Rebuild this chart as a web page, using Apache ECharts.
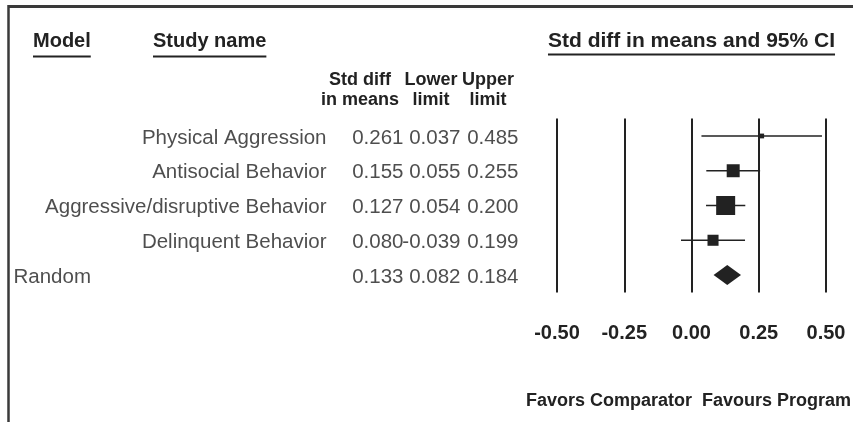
<!DOCTYPE html>
<html lang="en">
<head>
    <meta charset="UTF-8">
    <script src="https://cdn.jsdelivr.net/npm/echarts@6/dist/echarts.min.js"></script>
    <title>Std diff in means and 95% CI</title>
    <style>
        html, body { margin: 0; padding: 0; background: #fff; }
        #forest { width: 853px; height: 422px; }
    </style>
</head>
<body>
<div id="forest"></div>
<script type="text/javascript">
    // study rows
    var studies = ['Physical Aggression', 'Antisocial Behavior', 'Aggressive/disruptive Behavior', 'Delinquent Behavior'];
    var effect = [0.261, 0.155, 0.127, 0.080];
    var lower = [0.037, 0.055, 0.054, -0.039];
    var upper = [0.485, 0.255, 0.200, 0.199];
    var weights = [3.4, 25.0, 53.5, 18.1];   // relative weight, drives box size

    // summary row
    var modelName = 'Random';
    var pooled = [0.133, 0.082, 0.184];      // effect, lower, upper

    var xTicks = [-0.50, -0.25, 0.00, 0.25, 0.50];
    var colHeads = ['Std diff\nin means', 'Lower\nlimit', 'Upper\nlimit'];
    var favorLabels = ['Favors Comparator', 'Favours Program'];

    var FONT = 'Liberation Sans, Arial, Helvetica, sans-serif';
    var INK = '#222';

    // layout
    var plotLeft = 557, plotRight = 27, plotTop = 118.6, plotH = 173.8;
    var zeroX = plotLeft + (853 - plotLeft - plotRight) / 2;
    var nameRight = 327, modelLeft = 13;
    var numRights = [404, 461, 519];
    var headCenters = [360, 431, 488];

    var cv = document.createElement('canvas').getContext('2d');
    function textW(str, size, weight) {
        cv.font = (weight || 'normal') + ' ' + size + 'px ' + FONT;
        return cv.measureText(str).width;
    }

    var maxW = Math.max.apply(null, weights);
    var nRows = studies.length + 1;

    var studyData = studies.map(function (s, i) {
        return [i, effect[i], lower[i], upper[i], weights[i]];
    });

    function labelSeries(data, pos) {
        return {
            type: 'scatter',
            xAxisIndex: 1,
            yAxisIndex: 1,
            symbolSize: 1,
            itemStyle: { color: 'rgba(0,0,0,0)' },
            silent: true,
            data: data,
            label: {
                show: true,
                position: pos,
                distance: 0,
                offset: [0, 2],
                formatter: '{b}',
                color: INK,
                fontSize: 20.5,
                fontFamily: FONT
            }
        };
    }

    var nameData = studies.map(function (s, i) { return { name: s, value: [nameRight, i] }; });
    var numCols = [effect, lower, upper].map(function (arr, c) {
        var d = arr.map(function (v, i) { return { name: v.toFixed(3), value: [numRights[c], i] }; });
        d.push({ name: pooled[c].toFixed(3), value: [numRights[c], studies.length] });
        return labelSeries(d, 'left');
    });

    var graphics = [
        // frame
        { type: 'line', shape: { x1: 8, y1: 6.5, x2: 853, y2: 6.5 }, style: { stroke: '#3a3a3a', lineWidth: 3 } },
        { type: 'line', shape: { x1: 8.5, y1: 5, x2: 8.5, y2: 422 }, style: { stroke: '#3a3a3a', lineWidth: 2.5 } }
    ];
    function heading(txt, x, y, align, ulY, size) {
        var w = textW(txt, size, 'bold');
        var x0 = align === 'center' ? x - w / 2 : x;
        graphics.push({ type: 'text', style: { text: txt, x: x, y: y, align: align, verticalAlign: 'middle',
            fontSize: size, fontWeight: 'bold', fontFamily: FONT, fill: INK } });
        graphics.push({ type: 'line', shape: { x1: x0, y1: ulY, x2: x0 + w, y2: ulY }, style: { stroke: INK, lineWidth: 2 } });
    }
    heading('Model', 33, 41, 'left', 56.5, 20);
    heading('Study name', 153, 41, 'left', 56.5, 20);
    heading('Std diff in means and 95% CI', zeroX, 41.5, 'center', 54.5, 21);

    colHeads.forEach(function (h, c) {
        graphics.push({ type: 'text', style: { text: h, x: headCenters[c], y: 90, align: 'center', verticalAlign: 'middle',
            fontSize: 18, fontWeight: 'bold', fontFamily: FONT, fill: INK, lineHeight: 20 } });
    });

    graphics.push({ type: 'text', style: { text: favorLabels[0], x: zeroX + 0.5, y: 401, align: 'right', verticalAlign: 'middle',
        fontSize: 18, fontWeight: 'bold', fontFamily: FONT, fill: INK } });
    graphics.push({ type: 'text', style: { text: favorLabels[1], x: zeroX + 10.5, y: 401, align: 'left', verticalAlign: 'middle',
        fontSize: 18, fontWeight: 'bold', fontFamily: FONT, fill: INK } });

    var myChart = echarts.init(document.getElementById('forest'));
    var option = {
        animation: false,
        backgroundColor: '#fff',
        grid: [
            { left: plotLeft, right: plotRight, top: plotTop, height: plotH },
            { left: 0, right: 0, top: plotTop, height: plotH }
        ],
        xAxis: [
            {
                type: 'value',
                gridIndex: 0,
                min: xTicks[0],
                max: xTicks[xTicks.length - 1],
                interval: xTicks[1] - xTicks[0],
                axisLine: { show: false },
                axisTick: { show: false },
                splitLine: { show: true, lineStyle: { color: INK, width: 2 } },
                axisLabel: {
                    margin: 31,
                    color: INK,
                    fontSize: 20,
                    fontWeight: 'bold',
                    fontFamily: FONT,
                    showMinLabel: true,
                    showMaxLabel: true,
                    formatter: function (v) { return v.toFixed(2); }
                }
            },
            { type: 'value', gridIndex: 1, min: 0, max: 853, show: false }
        ],
        yAxis: [
            { type: 'value', gridIndex: 0, min: -0.5, max: nRows - 0.5, inverse: true, show: false },
            { type: 'value', gridIndex: 1, min: -0.5, max: nRows - 0.5, inverse: true, show: false }
        ],
        series: [
            {
                type: 'custom',
                xAxisIndex: 0,
                yAxisIndex: 0,
                data: studyData,
                encode: { x: [1, 2, 3], y: 0 },
                renderItem: function (params, api) {
                    var c = api.coord([api.value(1), api.value(0)]);
                    var l = api.coord([api.value(2), api.value(0)]);
                    var h = api.coord([api.value(3), api.value(0)]);
                    var s = Math.sqrt(api.value(4) / maxW) * 19;
                    return {
                        type: 'group',
                        children: [
                            { type: 'line', shape: { x1: l[0], y1: c[1], x2: h[0], y2: c[1] }, style: { stroke: INK, lineWidth: 1.5 } },
                            { type: 'rect', shape: { x: c[0] - s / 2, y: c[1] - s / 2, width: s, height: s }, style: { fill: INK } }
                        ]
                    };
                }
            },
            {
                type: 'custom',
                xAxisIndex: 0,
                yAxisIndex: 0,
                data: [[studies.length, pooled[0], pooled[1], pooled[2]]],
                encode: { x: [1, 2, 3], y: 0 },
                renderItem: function (params, api) {
                    var c = api.coord([api.value(1), api.value(0)]);
                    var l = api.coord([api.value(2), api.value(0)]);
                    var h = api.coord([api.value(3), api.value(0)]);
                    return {
                        type: 'polygon',
                        shape: { points: [[l[0], c[1]], [c[0], c[1] - 10], [h[0], c[1]], [c[0], c[1] + 10]] },
                        style: { fill: INK }
                    };
                }
            },
            labelSeries(nameData, 'left'),
            labelSeries([{ name: modelName, value: [modelLeft, studies.length] }], 'right')
        ].concat(numCols),
        graphic: graphics
    };
    myChart.setOption(option);
</script>
</body>
</html>
